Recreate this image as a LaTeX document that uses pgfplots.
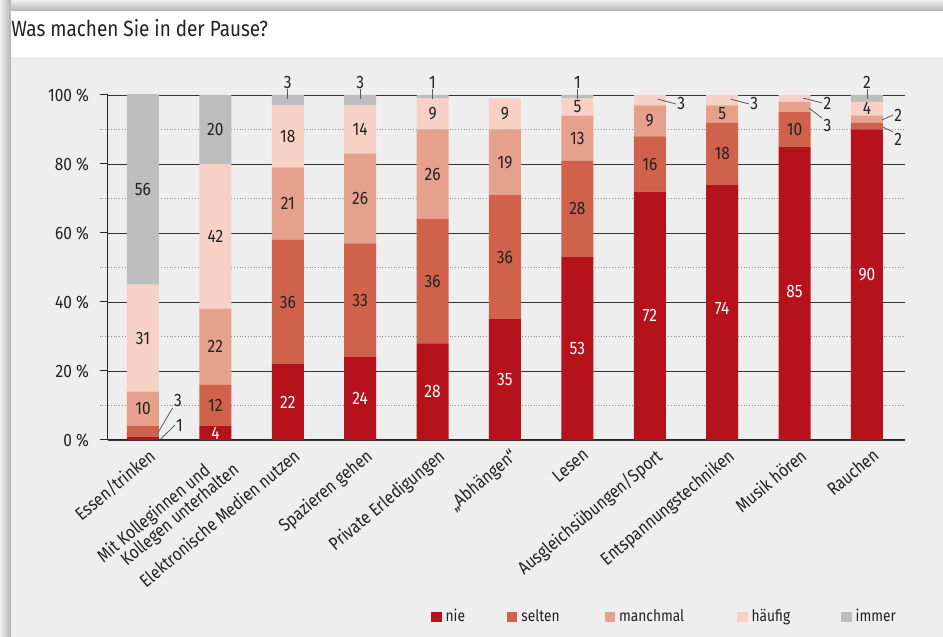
\documentclass[border=0pt]{standalone}
\usepackage{fontspec}
\setmainfont{Fira Sans}[FakeStretch=0.86]
\usepackage{pgfplots}
\pgfplotsset{compat=1.18}
\definecolor{nie}{HTML}{B5121B}
\definecolor{selten}{HTML}{D0614B}
\definecolor{manchmal}{HTML}{E5A18B}
\definecolor{haeufig}{HTML}{F7D1C6}
\definecolor{immer}{HTML}{BDBDBD}
\definecolor{panel}{HTML}{EEEEEE}
\definecolor{txt}{HTML}{222222}
\tikzset{
  lab/.style={font=\fontsize{9}{10}\selectfont, text=txt, inner sep=0.5pt},
  wlab/.style={font=\fontsize{9}{10}\selectfont, text=white, inner sep=0.5pt},
  leader/.style={draw=black!65, line width=0.4pt},
}
\newcommand{\lab}[3]{\node[lab] at (axis cs:#1,#2) {#3};}
\newcommand{\wlab}[3]{\node[wlab] at (axis cs:#1,#2) {#3};}
\newcommand{\toplab}[2]{\draw[leader] (axis cs:#1,98.8) -- (axis cs:#1,101.6);\node[lab] at (axis cs:#1,103.6) {#2};}
\newcommand{\mylabels}{%
% Essen/trinken
\lab{0}{9}{10}\lab{0}{29.5}{31}\lab{0}{72.5}{56}
\draw[leader] (axis cs:0.21,2.2) -- (axis cs:0.41,9.3) node[lab, anchor=south west] {3};
\draw[leader] (axis cs:0.24,0.2) -- (axis cs:0.44,4.3) node[lab, anchor=west] {1};
% Mit Kolleginnen
\wlab{1}{2}{4}\lab{1}{10}{12}\lab{1}{27}{22}\lab{1}{59}{42}\lab{1}{90}{20}
% Elektronische Medien
\wlab{2}{11}{22}\lab{2}{40}{36}\lab{2}{68.5}{21}\lab{2}{88}{18}\toplab{2}{3}
% Spazieren
\wlab{3}{12}{24}\lab{3}{40.5}{33}\lab{3}{70}{26}\lab{3}{90}{14}\toplab{3}{3}
% Private
\wlab{4}{14}{28}\lab{4}{46}{36}\lab{4}{77}{26}\lab{4}{94.5}{9}\toplab{4}{1}
% Abhaengen
\wlab{5}{17.5}{35}\lab{5}{53}{36}\lab{5}{80.5}{19}\lab{5}{94.5}{9}
% Lesen
\wlab{6}{26.5}{53}\lab{6}{67}{28}\lab{6}{87.5}{13}\lab{6}{96.5}{5}\toplab{6}{1}
% Ausgleich
\wlab{7}{36}{72}\lab{7}{80}{16}\lab{7}{92.5}{9}
\draw[leader] (axis cs:7.11,98.8) -- (axis cs:7.36,97.4) node[lab, anchor=west] {3};
% Entspannung
\wlab{8}{38}{74}\lab{8}{83}{18}\lab{8}{94.5}{5}
\draw[leader] (axis cs:8.12,98.8) -- (axis cs:8.37,97.4) node[lab, anchor=west] {3};
% Musik
\wlab{9}{43}{85}\lab{9}{90}{10}
\draw[leader] (axis cs:9.12,99.1) -- (axis cs:9.38,97.7) node[lab, anchor=west] {2};
\draw[leader] (axis cs:9.20,96.2) -- (axis cs:9.38,93.3) node[lab, anchor=north west] {3};
% Rauchen
\wlab{10}{48}{90}\lab{10}{96}{4}\toplab{10}{2}
\draw[leader] (axis cs:10.21,92.8) -- (axis cs:10.36,94.2) node[lab, anchor=west] {2};
\draw[leader] (axis cs:10.22,90.7) -- (axis cs:10.36,89.3) node[lab, anchor=north west] {2};
}
\begin{document}
\begin{tikzpicture}
\fill[white] (0,0) rectangle (471.5pt,318.5pt);
\shade[left color=black!6, right color=black!30] (0,0) rectangle (5.5pt,318.5pt);
\shade[bottom color=black!30, top color=black!6] (5.5pt,313pt) rectangle (471.5pt,318.5pt);
\fill[white] (5.5pt,0) rectangle (471.5pt,313pt);
\fill[panel] (5.5pt,0) rectangle (471.5pt,290pt);
\node[anchor=base west, inner sep=0pt, text=txt, font=\fontsize{11}{13}\selectfont] at (5.5pt,300pt) {Was machen Sie in der Pause?};
\begin{axis}[
  at={(54pt,98.5pt)}, anchor=south west,
  scale only axis, width=398.5pt, height=172.5pt,
  ybar stacked, bar width=16pt,
  xmin=-0.483, xmax=10.525, ymin=0, ymax=100,
  clip mode=individual,
  axis x line*=bottom, axis y line*=left,
  axis line style={black!85, line width=0.5pt},
  ytick={0,20,...,100}, minor ytick={10,30,...,90},
  ymajorgrids, yminorgrids,
  major grid style={black!80, line width=0.45pt},
  minor grid style={black!45, densely dotted, line width=0.45pt},
  tick align=outside,
  major tick length=4pt, minor tick length=4pt,
  major tick style={black!85, line width=0.5pt},
  minor tick style={black!45, densely dotted, line width=0.45pt},
  x tick style={draw=none},
  /pgf/number format/assume math mode=true,
  yticklabel={\pgfmathprintnumber{\tick}~\%},
  yticklabel style={font=\fontsize{9}{10}\selectfont, text=txt, xshift=-2pt},
  xtick={0,...,10},
  xticklabels={Essen/trinken, {Mit Kolleginnen und\\\hspace*{8pt}Kollegen unterhalten}, Elektronische Medien nutzen, Spazieren gehen, Private Erledigungen, „Abhängen“, Lesen, Ausgleichsübungen/Sport, Entspannungstechniken, Musik hören, Rauchen},
  xticklabel style={font=\fontsize{9}{8.8}\selectfont, text=txt, rotate=40, anchor=north east, align=left, inner sep=1pt, xshift=3pt},
  legend columns=5,
  legend style={at={(0.405,-0.513)}, anchor=west, draw=none, fill=none, inner sep=0pt,
    font=\fontsize{8}{9.5}\selectfont, text=txt,
    /tikz/column 2/.append style={column sep=19pt},
    /tikz/column 4/.append style={column sep=20.5pt},
    /tikz/column 6/.append style={column sep=24.5pt},
    /tikz/column 8/.append style={column sep=23.5pt}},
  after end axis/.code={\mylabels},
]
\addplot[fill=nie, draw=none, legend image code/.code={\fill[nie] (0pt,-2.6pt) rectangle (5.2pt,2.6pt);}]
  coordinates {(0,1)(1,4)(2,22)(3,24)(4,28)(5,35)(6,53)(7,72)(8,74)(9,85)(10,90)};
\addplot[fill=selten, draw=none, legend image code/.code={\fill[selten] (0pt,-2.6pt) rectangle (5.2pt,2.6pt);}]
  coordinates {(0,3)(1,12)(2,36)(3,33)(4,36)(5,36)(6,28)(7,16)(8,18)(9,10)(10,2)};
\addplot[fill=manchmal, draw=none, legend image code/.code={\fill[manchmal] (0pt,-2.6pt) rectangle (5.2pt,2.6pt);}]
  coordinates {(0,10)(1,22)(2,21)(3,26)(4,26)(5,19)(6,13)(7,9)(8,5)(9,3)(10,2)};
\addplot[fill=haeufig, draw=none, legend image code/.code={\fill[haeufig] (0pt,-2.6pt) rectangle (5.2pt,2.6pt);}]
  coordinates {(0,31)(1,42)(2,18)(3,14)(4,9)(5,9)(6,5)(7,3)(8,3)(9,2)(10,4)};
\addplot[fill=immer, draw=none, legend image code/.code={\fill[immer] (0pt,-2.6pt) rectangle (5.2pt,2.6pt);}]
  coordinates {(0,56)(1,20)(2,3)(3,3)(4,1)(5,0)(6,1)(7,0)(8,0)(9,0)(10,2)};
\legend{nie, selten, manchmal, häufig, immer}
\end{axis}
\end{tikzpicture}
\end{document}
